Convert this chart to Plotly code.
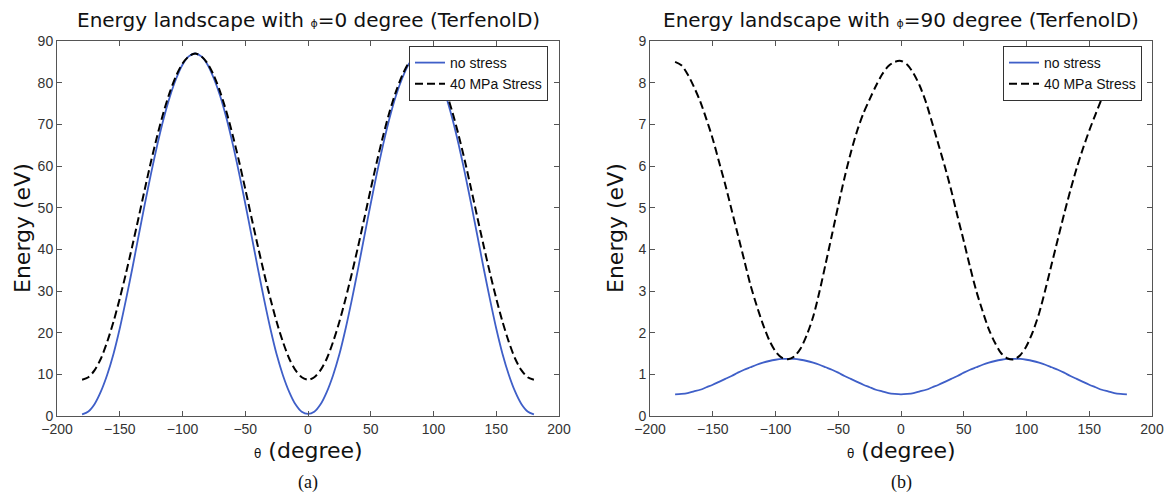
import plotly.graph_objects as go

# ---------------- data ----------------
theta = [-180, -175, -170, -165, -160, -155, -150, -145, -140, -135, -130, -125,
         -120, -115, -110, -105, -100, -95, -90, -85, -80, -75, -70, -65,
         -60, -55, -50, -45, -40, -35, -30, -25, -20, -15, -10, -5,
         0, 5, 10, 15, 20, 25, 30, 35, 40, 45, 50, 55,
         60, 65, 70, 75, 80, 85, 90, 95, 100, 105, 110, 115,
         120, 125, 130, 135, 140, 145, 150, 155, 160, 165, 170, 175, 180]

# (a) phi = 0 degree
a_no_stress = [0.4, 1.1, 2.9, 5.9, 9.9, 14.9, 21.0, 28.0, 35.4, 43.2, 50.9, 58.3,
               65.2, 71.4, 76.7, 81.0, 84.3, 86.3, 87.0, 86.3, 84.3, 81.0, 76.8, 71.5,
               65.3, 58.4, 51.0, 43.3, 35.5, 28.0, 21.0, 14.8, 9.8, 5.8, 2.8, 1.0,
               0.5, 1.0, 2.8, 5.8, 9.8, 14.8, 21.0, 28.0, 35.5, 43.3, 51.0, 58.4,
               65.3, 71.5, 76.8, 81.0, 84.3, 86.3, 87.0, 86.3, 84.3, 81.0, 76.7, 71.4,
               65.2, 58.3, 50.9, 43.2, 35.4, 28.0, 21.0, 14.9, 9.9, 5.9, 2.9, 1.1, 0.4]
a_stress = [8.7, 9.3, 11.0, 13.8, 17.8, 22.6, 28.2, 34.3, 40.8, 47.6, 54.5, 61.2,
            67.4, 73.0, 77.8, 81.7, 84.6, 86.3, 87.0, 86.3, 84.6, 81.7, 77.8, 73.0,
            67.4, 61.2, 54.5, 47.6, 40.8, 34.3, 28.2, 22.6, 17.8, 13.8, 11.0, 9.3,
            8.7, 9.3, 11.0, 13.8, 17.8, 22.6, 28.2, 34.3, 40.8, 47.6, 54.5, 61.2,
            67.4, 73.0, 77.8, 81.7, 84.6, 86.3, 87.0, 86.3, 84.6, 81.7, 77.8, 73.0,
            67.4, 61.2, 54.5, 47.6, 40.8, 34.3, 28.2, 22.6, 17.8, 13.8, 11.0, 9.3, 8.7]

# (b) phi = 90 degree
b_no_stress = [0.52, 0.53, 0.55, 0.59, 0.63, 0.69, 0.75, 0.82, 0.89, 0.96, 1.04, 1.11,
               1.17, 1.23, 1.28, 1.32, 1.35, 1.37, 1.37, 1.37, 1.35, 1.32, 1.28, 1.23,
               1.17, 1.11, 1.04, 0.96, 0.89, 0.82, 0.75, 0.69, 0.63, 0.59, 0.55, 0.53,
               0.52, 0.53, 0.55, 0.59, 0.63, 0.69, 0.75, 0.82, 0.89, 0.96, 1.04, 1.11,
               1.17, 1.23, 1.28, 1.32, 1.35, 1.37, 1.37, 1.37, 1.35, 1.32, 1.28, 1.23,
               1.17, 1.11, 1.04, 0.96, 0.89, 0.82, 0.75, 0.69, 0.63, 0.59, 0.55, 0.53, 0.52]
b_stress = [8.5, 8.42, 8.2, 7.9, 7.55, 7.12, 6.65, 6.1, 5.55, 4.95, 4.35, 3.75,
            3.15, 2.65, 2.2, 1.82, 1.55, 1.4, 1.36, 1.43, 1.62, 1.95, 2.38, 2.98,
            3.66, 4.35, 5.05, 5.72, 6.32, 6.84, 7.26, 7.6, 7.92, 8.2, 8.4, 8.5,
            8.52, 8.43, 8.22, 7.92, 7.52, 7.02, 6.5, 5.98, 5.42, 4.8, 4.2, 3.58,
            3.0, 2.52, 2.08, 1.75, 1.5, 1.38, 1.36, 1.46, 1.68, 2.02, 2.46, 3.03,
            3.64, 4.25, 4.85, 5.42, 5.95, 6.42, 6.85, 7.24, 7.62, 7.95, 8.22, 8.42, 8.5]

x_ticks = [-200, -150, -100, -50, 0, 50, 100, 150, 200]
a_y_ticks = [0, 10, 20, 30, 40, 50, 60, 70, 80, 90]
b_y_ticks = [0, 1, 2, 3, 4, 5, 6, 7, 8, 9]

series_names = ["no stress", "40 MPa Stress"]
titles = ["Energy landscape with <span style='font-size:11px'>ϕ</span>=0 degree (TerfenolD)",
          "Energy landscape with <span style='font-size:11px'>ϕ</span>=90 degree (TerfenolD)"]
panel_labels = ["(a)", "(b)"]

# ---------------- styling ----------------
W, H = 1169, 496
BLUE = "#3f5fc8"
SANS = "Liberation Sans, Arial, sans-serif"
WIDE = "DejaVu Sans, Verdana, sans-serif"
SERIF = "Liberation Serif, Times New Roman, serif"

def px_x(p):
    return p / W

def px_y(p):
    return 1 - p / H

dom_x1 = [px_x(57), px_x(559)]
dom_x2 = [px_x(650), px_x(1152)]
dom_y = [px_y(416), px_y(41)]

fig = go.Figure()

fig.add_trace(go.Scatter(x=theta, y=a_no_stress, mode="lines", name=series_names[0],
                         line=dict(color=BLUE, width=1.8, shape="spline", smoothing=0.8),
                         xaxis="x", yaxis="y", legend="legend"))
fig.add_trace(go.Scatter(x=theta, y=a_stress, mode="lines", name=series_names[1],
                         line=dict(color="black", width=2, dash="8px,4px",
                                   shape="spline", smoothing=0.8),
                         xaxis="x", yaxis="y", legend="legend"))
fig.add_trace(go.Scatter(x=theta, y=b_no_stress, mode="lines", name=series_names[0],
                         line=dict(color=BLUE, width=1.8, shape="spline", smoothing=0.8),
                         xaxis="x2", yaxis="y2", legend="legend2"))
fig.add_trace(go.Scatter(x=theta, y=b_stress, mode="lines", name=series_names[1],
                         line=dict(color="black", width=2, dash="8px,4px",
                                   shape="spline", smoothing=0.8),
                         xaxis="x2", yaxis="y2", legend="legend2"))

axis_common = dict(showline=True, linecolor="#555555", linewidth=1, mirror="allticks",
                   ticks="inside", ticklen=5, tickcolor="#555555", showgrid=False,
                   zeroline=False, automargin=False,
                   tickfont=dict(family=SANS, size=14, color="#333333"))

legend_common = dict(font=dict(family=SANS, size=14, color="#111111"),
                     bordercolor="#333333", borderwidth=1, bgcolor="white",
                     yanchor="top", xanchor="right", itemwidth=30, tracegroupgap=0)

fig.update_layout(
    width=W, height=H,
    margin=dict(l=0, r=0, t=0, b=0, autoexpand=False),
    paper_bgcolor="white", plot_bgcolor="white",
    showlegend=True,
    xaxis=dict(domain=dom_x1, range=[-200, 200], tickvals=x_ticks, anchor="y", **axis_common),
    yaxis=dict(domain=dom_y, range=[0, 90], tickvals=a_y_ticks, anchor="x", **axis_common),
    xaxis2=dict(domain=dom_x2, range=[-200, 200], tickvals=x_ticks, anchor="y2", **axis_common),
    yaxis2=dict(domain=dom_y, range=[0, 9], tickvals=b_y_ticks, anchor="x2", **axis_common),
    legend=dict(x=px_x(548), y=px_y(46), **legend_common),
    legend2=dict(x=px_x(1142), y=px_y(46), **legend_common),
)

annotations = []
centers = [(57 + 559) / 2, (650 + 1152) / 2]
ylabel_x = [22, 615]
for i in range(2):
    annotations.append(dict(text=titles[i], x=px_x(centers[i]), y=px_y(20), xref="paper",
                            yref="paper", showarrow=False, xanchor="center", yanchor="middle",
                            font=dict(family=WIDE, size=20, color="#111111")))
    annotations.append(dict(text="<span style='font-size:12px'>θ</span> (degree)",
                            x=px_x(centers[i]), y=px_y(450), xref="paper", yref="paper",
                            showarrow=False, xanchor="center", yanchor="middle",
                            font=dict(family=WIDE, size=22, color="#111111")))
    annotations.append(dict(text="Energy (eV)", x=px_x(ylabel_x[i]), y=px_y(228),
                            xref="paper", yref="paper", showarrow=False, textangle=-90,
                            xanchor="center", yanchor="middle",
                            font=dict(family=WIDE, size=22, color="#111111")))
    annotations.append(dict(text=panel_labels[i], x=px_x(centers[i]), y=px_y(482),
                            xref="paper", yref="paper", showarrow=False,
                            xanchor="center", yanchor="middle",
                            font=dict(family=SERIF, size=18, color="#111111")))
fig.update_layout(annotations=annotations)

# let the figure fill the window exactly (no default page margin), no modebar
fig.write_html("out.html",
               config={"displayModeBar": False},
               post_script="document.body.style.margin='0px';document.body.style.overflow='hidden';")
